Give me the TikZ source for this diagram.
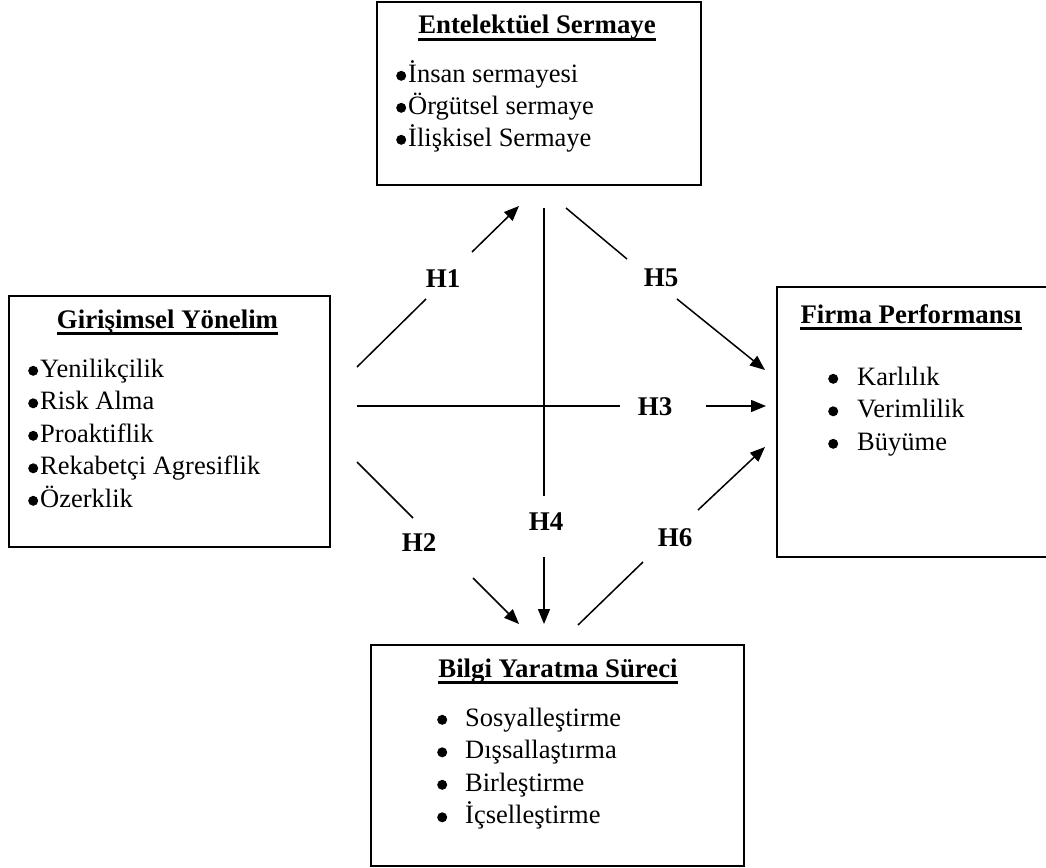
\documentclass[tikz,border=0pt]{standalone}
\usepackage{fontspec}
\setmainfont{Liberation Serif}
\usetikzlibrary{arrows.meta}
% round list bullet, a filled dot about a third of an em wide
\newcommand\listdot{\raisebox{1.2pt}{\tikz[x=1pt,y=1pt]\fill (0,0) circle [radius=5pt];}}
\begin{document}
\begin{tikzpicture}[x=1pt,y=-1pt,
  box/.style={draw, line width=1.5pt, inner sep=0pt},
  title/.style={font=\fontsize{26.8}{31}\selectfont\bfseries, inner sep=0pt, anchor=base},
  item/.style={font=\fontsize{26.5}{31}\selectfont, inner sep=0pt, anchor=base west},
  hyp/.style={font=\fontsize{27}{32}\selectfont\bfseries, inner sep=0pt},
  link/.style={line width=1.5pt},
  arr/.style={link, -{Triangle[length=15pt,width=12pt]}},
  uline/.style={line width=2.5pt}
]
\useasboundingbox (0,0) rectangle (1046,867);

% construct boxes
\node[box, minimum width=324pt, minimum height=183pt] (es) at (539,93.5) {};
\node[box, minimum width=321pt, minimum height=251pt] (gy) at (169.5,421.5) {};
\node[box, minimum width=271pt, minimum height=270pt] (fp) at (912.5,422) {};
\node[box, minimum width=373pt, minimum height=221pt] (by) at (557.5,755.5) {};

% titles with underlines
\node[title] (est) at (537,34) {Entelektüel Sermaye};
\node[title] (gyt) at (167.5,328) {Girişimsel Yönelim};
\node[title] (fpt) at (911,323) {Firma Performansı};
\node[title] (byt) at (558,677) {Bilgi Yaratma Süreci};
\foreach \n in {est,gyt,fpt,byt}
  \draw[uline] ([yshift=-5.5pt]\n.base west) -- ([yshift=-5.5pt]\n.base east);

% dimension lists
\foreach \t [count=\i from 0] in {İnsan sermayesi, Örgütsel sermaye, İlişkisel Sermaye}
  \node[item, name=esi\i] at (396,{82+32*\i}) {\listdot\hspace{2pt}\t};
\foreach \t [count=\i from 0] in {Yenilikçilik, Risk Alma, Proaktiflik, Rekabetçi Agresiflik, Özerklik}
  \node[item, name=gyi\i] at (28,{377+32.5*\i}) {\listdot\hspace{2pt}\t};
\foreach \t [count=\i from 0] in {Karlılık, Verimlilik, Büyüme}
  \node[item, name=fpi\i] at (828,{385+32.5*\i}) {\listdot\hspace{19pt}\t};
\foreach \t [count=\i from 0] in {Sosyalleştirme, Dışsallaştırma, Birleştirme, İçselleştirme}
  \node[item, name=byi\i] at (437,{726+32.5*\i}) {\listdot\hspace{18pt}\t};

% hypothesis labels
\node[hyp] (h1) at (443,279) {H1};
\node[hyp] (h2) at (419,543) {H2};
\node[hyp] (h3) at (655,407) {H3};
\node[hyp] (h4) at (546,522) {H4};
\node[hyp] (h5) at (661,278) {H5};
\node[hyp] (h6) at (675,538) {H6};

% connector end points
\coordinate (a1) at (357,367); \coordinate (a2) at (426,299);
\coordinate (a3) at (472,252); \coordinate (a4) at (519,206);
\coordinate (b1) at (357,462); \coordinate (b2) at (413,518);
\coordinate (b3) at (473,578); \coordinate (b4) at (519,624);
\coordinate (c1) at (357,406); \coordinate (c2) at (620,406);
\coordinate (c3) at (706,406); \coordinate (c4) at (766,406);
\coordinate (d1) at (544,208); \coordinate (d2) at (544,496);
\coordinate (d3) at (544,557); \coordinate (d4) at (544,624);
\coordinate (e1) at (566,208); \coordinate (e2) at (627,259);
\coordinate (e3) at (677,299); \coordinate (e4) at (765,370);
\coordinate (f1) at (578,625); \coordinate (f2) at (643,562);
\coordinate (f3) at (698,510); \coordinate (f4) at (765,447);

% connectors, each broken around its label
\draw[link] (a1) -- (a2); \draw[arr] (a3) -- (a4);
\draw[link] (b1) -- (b2); \draw[arr] (b3) -- (b4);
\draw[link] (c1) -- (c2); \draw[arr] (c3) -- (c4);
\draw[link] (d1) -- (d2); \draw[arr] (d3) -- (d4);
\draw[link] (e1) -- (e2); \draw[arr] (e3) -- (e4);
\draw[link] (f1) -- (f2); \draw[arr] (f3) -- (f4);
\end{tikzpicture}
\end{document}
